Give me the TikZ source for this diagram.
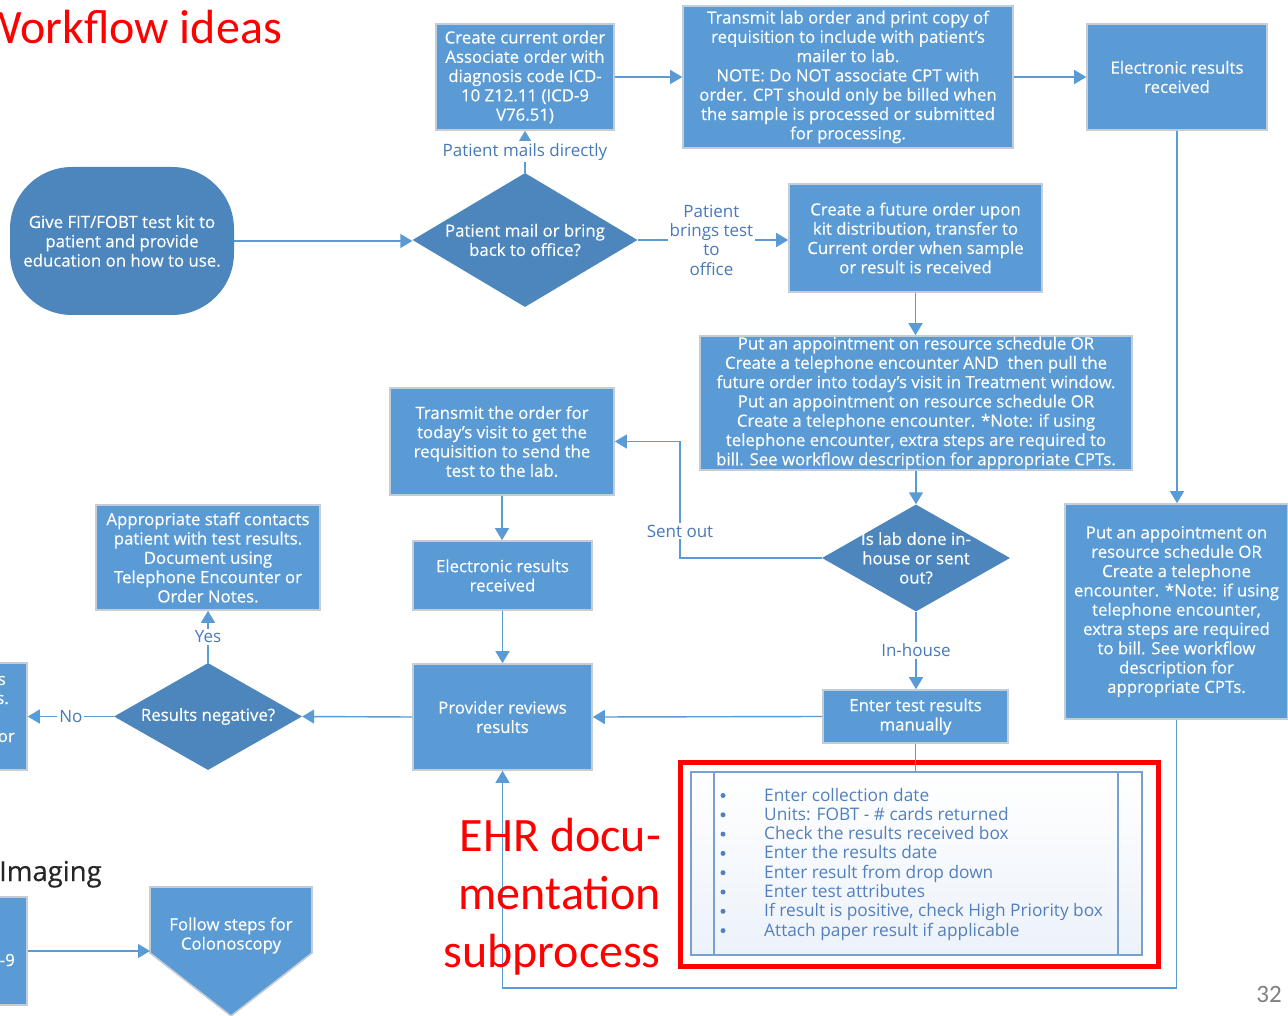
\documentclass[tikz,border=0pt]{standalone}
\usepackage{fontspec}
\setmainfont{Open Sans}
\newfontfamily\boxface{Open Sans}[FakeBold=0.35]
\newfontfamily\calibrifont{Carlito}
\usetikzlibrary{shapes.geometric,arrows.meta}

\definecolor{boxblue}{RGB}{91,155,213}
\definecolor{darkblue}{RGB}{76,134,189}
\definecolor{boxline}{RGB}{196,204,214}
\definecolor{lineblue}{RGB}{91,155,213}
\definecolor{labelblue}{RGB}{72,122,186}
\definecolor{itemblue}{RGB}{82,128,190}
\definecolor{listline}{RGB}{120,160,210}
\definecolor{listbg}{RGB}{236,242,250}
\definecolor{pagegray}{RGB}{128,128,128}

\newcommand\boxfont{\boxface\fontsize{16.8}{19.3}\selectfont}
\newcommand\lblfont{\fontsize{17}{19.3}\selectfont}
\newcommand\itemfont{\fontsize{17.3}{19.3}\selectfont}

\tikzset{
  box/.style={draw=boxline, line width=1.6pt, fill=boxblue, text=white,
    align=center, font=\boxfont, inner sep=0pt},
  decision/.style={shape=diamond, fill=darkblue, inner sep=0pt},
  dectext/.style={text=white, align=center, font=\boxfont, inner sep=0pt},
  conn/.style={draw=lineblue, line width=1.4pt,
    -{Triangle[length=12pt,width=14pt]}},
  plain/.style={draw=lineblue, line width=1.4pt},
  lbl/.style={fill=white, text=labelblue, font=\lblfont, inner sep=2pt, align=center},
  redtext/.style={text=red, font=\calibrifont\fontsize{48}{58}\selectfont, inner sep=0pt},
  itemtext/.style={text=itemblue, font=\itemfont, inner sep=0pt},
  bulletdot/.style={circle, fill=itemblue, inner sep=0pt, minimum size=5pt}
}

\begin{document}
\begin{tikzpicture}[x=1pt,y=-1pt]
\useasboundingbox (0,0) rectangle (1288,1016);
\fill[white] (0,0) rectangle (1288,1016);

% headings
\node[redtext, anchor=base east] (title) at (282,44) {Workflow ideas};
\node[anchor=base west, inner sep=0pt, text=black!85, font=\boxface\fontsize{27.5}{30}\selectfont] (imaging) at (-1,881) {Imaging};

% start
\node[fill=darkblue, rounded corners=62pt, minimum width=224, minimum height=148,
      text=white, align=center, font=\boxfont, inner sep=0pt] (start) at (122,241)
  {Give FIT/FOBT test kit to\\patient and provide\\education on how to use.};

% first decision
\node[decision, minimum width=225, minimum height=134] (d1) at (525,240) {};
\node[dectext] (d1t) at (d1.center) {Patient mail or bring\\back to office?};

% top row
\node[box, minimum width=178, minimum height=106] (b1) at (525,77)
  {Create current order\\Associate order with\\diagnosis code ICD-\\10 Z12.11 (ICD-9\\V76.51)};
\node[box, minimum width=330, minimum height=142] (b2) at (848,77)
  {Transmit lab order and print copy of\\requisition to include with patient’s\\mailer to lab.\\NOTE: Do NOT associate CPT with\\order. CPT should only be billed when\\the sample is processed or submitted\\for processing.};
\node[box, minimum width=180, minimum height=106] (b3) at (1177,77)
  {Electronic results\\received};

% future order branch
\node[box, minimum width=253, minimum height=108] (b4) at (915.5,238)
  {Create a future order upon\\kit distribution, transfer to\\Current order when sample\\or result is received};
\node[box, minimum width=432, minimum height=134] (b5) at (916,403)
  {Put an appointment on resource schedule OR\\Create a telephone encounter AND\ \ then pull the\\future order into today’s visit in Treatment window.\\Put an appointment on resource schedule OR\\Create a telephone encounter. *Note: if using\\telephone encounter, extra steps are required to\\bill. See workflow description for appropriate CPTs.};
\node[decision, minimum width=188, minimum height=107] (d2) at (916,558) {};
\node[dectext] (d2t) at (d2.center) {Is lab done in-\\house or sent\\out?};

\node[box, minimum width=224, minimum height=107] (b6) at (502,441.5)
  {Transmit the order for\\today’s visit to get the\\requisition to send the\\test to the lab.};
\node[box, minimum width=179, minimum height=69] (b7) at (502.5,575.5)
  {Electronic results\\received};
\node[box, minimum width=179, minimum height=106] (b8) at (502.5,717)
  {Provider reviews\\results};
\node[box, minimum width=185, minimum height=53] (b9) at (915.5,716.5)
  {Enter test results\\manually};

\node[decision, minimum width=188, minimum height=107] (d3) at (208,716.5) {};
\node[dectext] (d3t) at (d3.center) {Results negative?};
\node[box, minimum width=224, minimum height=105] (b10) at (208,557.5)
  {Appropriate staff contacts\\patient with test results.\\Document using\\Telephone Encounter or\\Order Notes.};

% boxes running off the left edge
\node[box, minimum width=226, minimum height=107] (b11) at (-86,716.5) {};
\node[text=white, font=\boxfont, inner sep=0pt, anchor=base east] (b11a) at (6,685) {s};
\node[text=white, font=\boxfont, inner sep=0pt, anchor=base east] (b11b) at (9,704) {s.};
\node[text=white, font=\boxfont, inner sep=0pt, anchor=base east] (b11c) at (15,742) {or};
\node[box, minimum width=127, minimum height=108] (b12) at (-36.5,951) {};
\node[text=white, font=\boxfont, inner sep=0pt, anchor=base east] (b12a) at (15,966) {-9};

% right column
\node[box, minimum width=223, minimum height=215] (b13) at (1176.5,611.5)
  {Put an appointment on\\resource schedule OR\\Create a telephone\\encounter. *Note: if using\\telephone encounter,\\extra steps are required\\to bill. See workflow\\description for\\appropriate CPTs.};

% colonoscopy pentagon
\draw[draw=boxline, line width=1.6pt, fill=boxblue]
  (150,887) -- (312,887) -- (312,953) -- (231,1016) -- (150,953) -- cycle;
\coordinate (pentw) at (150,951);
\node[text=white, align=center, font=\boxfont, inner sep=0pt] (pentt) at (231,935.5)
  {Follow steps for\\Colonoscopy};

% documentation subprocess list
\node[draw=listline, line width=1.2pt, top color=white, bottom color=listbg,
      minimum width=451, minimum height=183, inner sep=0pt] (ehr) at (916.5,863.5) {};
\draw[listline, line width=1.2pt] (714,772) -- (714,955) (1118,772) -- (1118,955);
\foreach \t [count=\i] in {Enter collection date, Units: FOBT - \# cards returned,
    Check the results received box, Enter the results date, Enter result from drop down,
    Enter test attributes, {If result is positive, check High Priority box},
    Attach paper result if applicable}{
  \node[bulletdot] (dot\i) at (723,{795.5+19.3*(\i-1)}) {};
  \node[itemtext, anchor=base west] (item\i) at (764,{801+19.3*(\i-1)}) {\t};
}
\draw[red, line width=5pt] (680,762) rectangle (1158,966);

% connectors
\draw[conn] (start.east) -- (start.east -| d1.west);
\draw[conn] (d1.north) -- node[lbl] (lmail) {Patient mails directly} (b1.south);
\draw[conn] (b1.east) -- (b2.west);
\draw[conn] (b2.east) -- (b3.west);
\draw[conn] (d1.east) -- node[lbl, pos=0.49] (lbring) {Patient\\brings test\\to\\office} (d1.east -| b4.west);
\draw[conn] (b4.south) -- (b4.south |- b5.north);
\draw[conn] (b5.south) -- (d2.north);
\coordinate (sentA) at (680,558);
\coordinate (sentB) at (680,441.5);
\draw[conn] (d2.west) -- (sentA) -- node[lbl, pos=0.23] (lsent) {Sent out} (sentB) -- (b6.east);
\draw[conn] (b6.south) -- (b6.south |- b7.north);
\draw[conn] (b7.south) -- (b8.north);
\draw[conn] (d2.south) -- node[lbl] (lhouse) {In-house} (d2.south |- b9.north);
\draw[conn] (b9.west) -- (b8.east);
\draw[conn] (b8.west) -- (d3.east);
\draw[conn] (d3.north) -- node[lbl] (lyes) {Yes} (b10.south);
\draw[conn] (d3.west) -- node[lbl] (lno) {No} (b11.east);
\draw[conn] (b3.south) -- (b3.south |- b13.north);
\draw[plain] (b9.south) -- (b9.south |- ehr.north);
\coordinate (loopA) at (1176.5,988);
\coordinate (loopB) at (502.5,988);
\draw[conn] (b13.south) -- (loopA) -- (loopB) -- (b8.south);
\draw[conn] (b12.east) -- (pentw);

% subprocess caption
\node[redtext, anchor=base east] (ehr1) at (661,851) {EHR docu-};
\node[redtext, anchor=base east] (ehr2) at (661,909) {mentation};
\node[redtext, anchor=base east] (ehr3) at (661,967) {subprocess};

% page number
\node[anchor=base east, inner sep=0pt, text=pagegray, font=\calibrifont\fontsize{25}{30}\selectfont] (page) at (1282,1002) {32};
\end{tikzpicture}
\end{document}
